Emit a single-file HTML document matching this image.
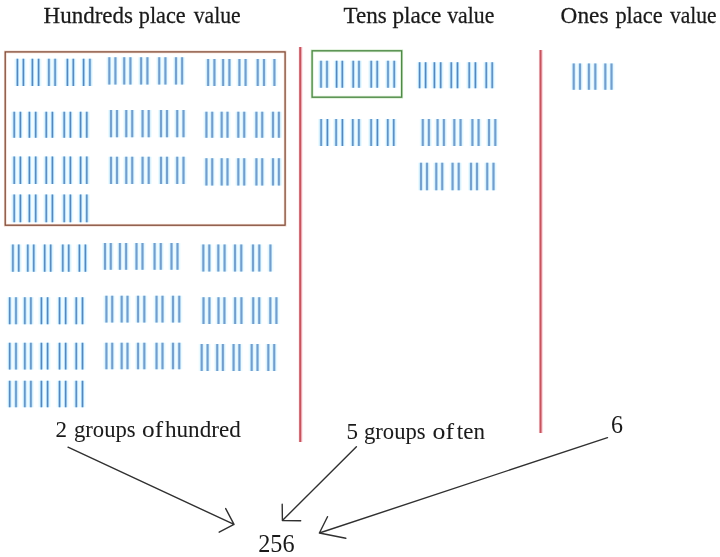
<!DOCTYPE html>
<html><head><meta charset="utf-8"><style>
html,body{margin:0;padding:0;background:#fff;width:720px;height:557px;overflow:hidden}
svg{display:block}
</style></head><body>
<svg width="720" height="557" viewBox="0 0 720 557">
<rect width="720" height="557" fill="#fff"/>
<path d="M17.40 58.75V86.00M23.40 58.75V86.00M32.40 58.75V86.00M38.60 58.75V86.00M48.90 58.75V86.00M55.10 58.75V86.00M67.40 58.75V86.00M73.30 58.75V86.00M83.60 58.75V86.00M89.90 58.75V86.00M14.20 111.80V137.80M20.40 111.80V137.80M29.40 111.80V137.80M35.70 111.80V137.80M46.25 111.80V137.80M52.40 111.80V137.80M64.20 111.80V137.80M70.40 111.80V137.80M80.60 111.80V137.80M86.80 111.80V137.80M14.20 156.40V183.90M20.40 156.40V183.90M29.40 156.40V183.90M35.70 156.40V183.90M46.25 156.40V183.90M52.40 156.40V183.90M64.20 156.40V183.90M70.40 156.40V183.90M80.60 156.40V183.90M86.80 156.40V183.90M14.20 194.40V222.20M20.40 194.40V222.20M29.40 194.40V222.20M35.70 194.40V222.20M46.25 194.40V222.20M52.40 194.40V222.20M64.20 194.40V222.20M70.40 194.40V222.20M80.60 194.40V222.20M86.80 194.40V222.20M12.90 244.40V271.80M18.75 244.40V271.80M27.80 244.40V271.80M33.75 244.40V271.80M44.70 244.40V271.80M50.70 244.40V271.80M62.80 244.40V271.80M68.75 244.40V271.80M79.40 244.40V271.80M85.40 244.40V271.80M9.70 297.20V324.20M16.00 297.20V324.20M24.85 297.20V324.20M30.90 297.20V324.20M41.40 297.20V324.20M47.60 297.20V324.20M59.55 297.20V324.20M65.65 297.20V324.20M76.25 297.20V324.20M82.50 297.20V324.20M9.70 342.80V369.60M16.00 342.80V369.60M24.85 342.80V369.60M30.90 342.80V369.60M41.40 342.80V369.60M47.60 342.80V369.60M59.55 342.80V369.60M65.65 342.80V369.60M76.25 342.80V369.60M82.50 342.80V369.60M9.70 380.80V407.20M16.00 380.80V407.20M24.85 380.80V407.20M30.90 380.80V407.20M41.40 380.80V407.20M47.60 380.80V407.20M59.55 380.80V407.20M65.65 380.80V407.20M76.25 380.80V407.20M82.50 380.80V407.20M321.00 60.80V87.80M327.00 60.80V87.80M336.60 60.80V87.80M342.30 60.80V87.80M353.20 60.80V87.80M359.00 60.80V87.80M371.20 60.80V87.80M377.20 60.80V87.80M388.00 60.80V87.80M394.20 60.80V87.80M419.60 62.20V88.20M425.60 62.20V88.20M434.40 62.20V88.20M440.70 62.20V88.20M451.25 62.20V88.20M457.50 62.20V88.20M469.20 62.20V88.20M475.40 62.20V88.20M486.25 62.20V88.20M492.20 62.20V88.20M321.10 118.90V146.00M327.40 118.90V146.00M336.10 118.90V146.00M342.40 118.90V146.00M352.80 118.90V146.00M358.90 118.90V146.00M371.10 118.90V146.00M377.40 118.90V146.00M387.80 118.90V146.00M393.75 118.90V146.00M109.30 57.20V84.60M115.40 57.20V84.60M124.20 57.20V84.60M130.40 57.20V84.60M141.10 57.20V84.60M147.40 57.20V84.60M159.20 57.20V84.60M165.40 57.20V84.60M176.00 57.20V84.60M182.10 57.20V84.60M208.10 59.00V86.00M214.40 59.00V86.00M223.10 59.00V86.00M229.40 59.00V86.00M239.40 59.00V86.00M245.60 59.00V86.00M257.75 59.00V86.00M264.00 59.00V86.00M274.40 59.00V86.00M111.00 110.00V137.20M117.00 110.00V137.20M126.25 110.00V137.20M132.20 110.00V137.20M142.60 110.00V137.20M148.75 110.00V137.20M161.00 110.00V137.20M167.00 110.00V137.20M177.20 110.00V137.20M183.50 110.00V137.20M206.40 111.80V137.80M212.20 111.80V137.80M221.70 111.80V137.80M227.50 111.80V137.80M238.30 111.80V137.80M244.20 111.80V137.80M256.40 111.80V137.80M262.20 111.80V137.80M273.00 111.80V137.80M278.90 111.80V137.80M111.00 156.80V183.90M117.00 156.80V183.90M126.25 156.80V183.90M132.20 156.80V183.90M142.60 156.80V183.90M148.75 156.80V183.90M161.00 156.80V183.90M167.00 156.80V183.90M177.20 156.80V183.90M183.50 156.80V183.90M206.40 158.20V185.60M212.20 158.20V185.60M221.70 158.20V185.60M227.50 158.20V185.60M238.30 158.20V185.60M244.20 158.20V185.60M256.40 158.20V185.60M262.20 158.20V185.60M273.00 158.20V185.60M278.90 158.20V185.60M105.00 243.00V269.70M110.80 243.00V269.70M119.90 243.00V269.70M126.10 243.00V269.70M136.50 243.00V269.70M142.50 243.00V269.70M154.60 243.00V269.70M160.80 243.00V269.70M171.50 243.00V269.70M177.50 243.00V269.70M203.30 244.40V271.40M209.30 244.40V271.40M218.30 244.40V271.40M224.60 244.40V271.40M235.00 244.40V271.40M241.25 244.40V271.40M253.00 244.40V271.40M259.30 244.40V271.40M270.40 244.40V271.40M106.40 295.80V322.50M112.20 295.80V322.50M121.70 295.80V322.50M127.50 295.80V322.50M138.05 295.80V322.50M144.30 295.80V322.50M156.55 295.80V322.50M162.50 295.80V322.50M173.00 295.80V322.50M179.25 295.80V322.50M203.50 297.20V323.90M209.40 297.20V323.90M218.50 297.20V323.90M224.40 297.20V323.90M235.10 297.20V323.90M241.40 297.20V323.90M253.20 297.20V323.90M259.20 297.20V323.90M270.30 297.20V323.90M276.40 297.20V323.90M106.40 342.80V369.20M112.20 342.80V369.20M121.70 342.80V369.20M127.50 342.80V369.20M138.05 342.80V369.20M144.30 342.80V369.20M156.55 342.80V369.20M162.50 342.80V369.20M173.00 342.80V369.20M179.25 342.80V369.20M201.70 343.90V371.00M207.60 343.90V371.00M217.20 343.90V371.00M222.90 343.90V371.00M233.60 343.90V371.00M239.40 343.90V371.00M251.70 343.90V371.00M257.50 343.90V371.00M268.30 343.90V371.00M274.20 343.90V371.00M422.80 118.90V146.00M428.90 118.90V146.00M437.60 118.90V146.00M443.90 118.90V146.00M454.30 118.90V146.00M460.60 118.90V146.00M472.40 118.90V146.00M478.60 118.90V146.00M489.00 118.90V146.00M495.30 118.90V146.00M421.00 162.80V190.30M427.00 162.80V190.30M436.25 162.80V190.30M442.20 162.80V190.30M452.60 162.80V190.30M458.75 162.80V190.30M471.00 162.80V190.30M477.00 162.80V190.30M487.20 162.80V190.30M493.50 162.80V190.30M573.75 63.60V89.70M580.00 63.60V89.70M588.90 63.60V89.70M595.30 63.60V89.70M605.30 63.60V89.70M611.50 63.60V89.70" stroke="#ecfbff" stroke-width="6" fill="none"/>
<path d="M17.40 58.75V86.00M23.40 58.75V86.00M32.40 58.75V86.00M38.60 58.75V86.00M48.90 58.75V86.00M55.10 58.75V86.00M67.40 58.75V86.00M73.30 58.75V86.00M83.60 58.75V86.00M89.90 58.75V86.00M14.20 111.80V137.80M20.40 111.80V137.80M29.40 111.80V137.80M35.70 111.80V137.80M46.25 111.80V137.80M52.40 111.80V137.80M64.20 111.80V137.80M70.40 111.80V137.80M80.60 111.80V137.80M86.80 111.80V137.80M14.20 156.40V183.90M20.40 156.40V183.90M29.40 156.40V183.90M35.70 156.40V183.90M46.25 156.40V183.90M52.40 156.40V183.90M64.20 156.40V183.90M70.40 156.40V183.90M80.60 156.40V183.90M86.80 156.40V183.90M14.20 194.40V222.20M20.40 194.40V222.20M29.40 194.40V222.20M35.70 194.40V222.20M46.25 194.40V222.20M52.40 194.40V222.20M64.20 194.40V222.20M70.40 194.40V222.20M80.60 194.40V222.20M86.80 194.40V222.20M12.90 244.40V271.80M18.75 244.40V271.80M27.80 244.40V271.80M33.75 244.40V271.80M44.70 244.40V271.80M50.70 244.40V271.80M62.80 244.40V271.80M68.75 244.40V271.80M79.40 244.40V271.80M85.40 244.40V271.80M9.70 297.20V324.20M16.00 297.20V324.20M24.85 297.20V324.20M30.90 297.20V324.20M41.40 297.20V324.20M47.60 297.20V324.20M59.55 297.20V324.20M65.65 297.20V324.20M76.25 297.20V324.20M82.50 297.20V324.20M9.70 342.80V369.60M16.00 342.80V369.60M24.85 342.80V369.60M30.90 342.80V369.60M41.40 342.80V369.60M47.60 342.80V369.60M59.55 342.80V369.60M65.65 342.80V369.60M76.25 342.80V369.60M82.50 342.80V369.60M9.70 380.80V407.20M16.00 380.80V407.20M24.85 380.80V407.20M30.90 380.80V407.20M41.40 380.80V407.20M47.60 380.80V407.20M59.55 380.80V407.20M65.65 380.80V407.20M76.25 380.80V407.20M82.50 380.80V407.20M321.00 60.80V87.80M327.00 60.80V87.80M336.60 60.80V87.80M342.30 60.80V87.80M353.20 60.80V87.80M359.00 60.80V87.80M371.20 60.80V87.80M377.20 60.80V87.80M388.00 60.80V87.80M394.20 60.80V87.80M419.60 62.20V88.20M425.60 62.20V88.20M434.40 62.20V88.20M440.70 62.20V88.20M451.25 62.20V88.20M457.50 62.20V88.20M469.20 62.20V88.20M475.40 62.20V88.20M486.25 62.20V88.20M492.20 62.20V88.20M321.10 118.90V146.00M327.40 118.90V146.00M336.10 118.90V146.00M342.40 118.90V146.00M352.80 118.90V146.00M358.90 118.90V146.00M371.10 118.90V146.00M377.40 118.90V146.00M387.80 118.90V146.00M393.75 118.90V146.00" stroke="#acd8f8" stroke-width="3" fill="none"/>
<path d="M17.40 58.75V86.00M23.40 58.75V86.00M32.40 58.75V86.00M38.60 58.75V86.00M48.90 58.75V86.00M55.10 58.75V86.00M67.40 58.75V86.00M73.30 58.75V86.00M83.60 58.75V86.00M89.90 58.75V86.00M14.20 111.80V137.80M20.40 111.80V137.80M29.40 111.80V137.80M35.70 111.80V137.80M46.25 111.80V137.80M52.40 111.80V137.80M64.20 111.80V137.80M70.40 111.80V137.80M80.60 111.80V137.80M86.80 111.80V137.80M14.20 156.40V183.90M20.40 156.40V183.90M29.40 156.40V183.90M35.70 156.40V183.90M46.25 156.40V183.90M52.40 156.40V183.90M64.20 156.40V183.90M70.40 156.40V183.90M80.60 156.40V183.90M86.80 156.40V183.90M14.20 194.40V222.20M20.40 194.40V222.20M29.40 194.40V222.20M35.70 194.40V222.20M46.25 194.40V222.20M52.40 194.40V222.20M64.20 194.40V222.20M70.40 194.40V222.20M80.60 194.40V222.20M86.80 194.40V222.20M12.90 244.40V271.80M18.75 244.40V271.80M27.80 244.40V271.80M33.75 244.40V271.80M44.70 244.40V271.80M50.70 244.40V271.80M62.80 244.40V271.80M68.75 244.40V271.80M79.40 244.40V271.80M85.40 244.40V271.80M9.70 297.20V324.20M16.00 297.20V324.20M24.85 297.20V324.20M30.90 297.20V324.20M41.40 297.20V324.20M47.60 297.20V324.20M59.55 297.20V324.20M65.65 297.20V324.20M76.25 297.20V324.20M82.50 297.20V324.20M9.70 342.80V369.60M16.00 342.80V369.60M24.85 342.80V369.60M30.90 342.80V369.60M41.40 342.80V369.60M47.60 342.80V369.60M59.55 342.80V369.60M65.65 342.80V369.60M76.25 342.80V369.60M82.50 342.80V369.60M9.70 380.80V407.20M16.00 380.80V407.20M24.85 380.80V407.20M30.90 380.80V407.20M41.40 380.80V407.20M47.60 380.80V407.20M59.55 380.80V407.20M65.65 380.80V407.20M76.25 380.80V407.20M82.50 380.80V407.20M321.00 60.80V87.80M327.00 60.80V87.80M336.60 60.80V87.80M342.30 60.80V87.80M353.20 60.80V87.80M359.00 60.80V87.80M371.20 60.80V87.80M377.20 60.80V87.80M388.00 60.80V87.80M394.20 60.80V87.80M419.60 62.20V88.20M425.60 62.20V88.20M434.40 62.20V88.20M440.70 62.20V88.20M451.25 62.20V88.20M457.50 62.20V88.20M469.20 62.20V88.20M475.40 62.20V88.20M486.25 62.20V88.20M492.20 62.20V88.20M321.10 118.90V146.00M327.40 118.90V146.00M336.10 118.90V146.00M342.40 118.90V146.00M352.80 118.90V146.00M358.90 118.90V146.00M371.10 118.90V146.00M377.40 118.90V146.00M387.80 118.90V146.00M393.75 118.90V146.00" stroke="#5587bb" stroke-width="1.3" fill="none"/>
<path d="M109.30 57.20V84.60M115.40 57.20V84.60M124.20 57.20V84.60M130.40 57.20V84.60M141.10 57.20V84.60M147.40 57.20V84.60M159.20 57.20V84.60M165.40 57.20V84.60M176.00 57.20V84.60M182.10 57.20V84.60M208.10 59.00V86.00M214.40 59.00V86.00M223.10 59.00V86.00M229.40 59.00V86.00M239.40 59.00V86.00M245.60 59.00V86.00M257.75 59.00V86.00M264.00 59.00V86.00M274.40 59.00V86.00M111.00 110.00V137.20M117.00 110.00V137.20M126.25 110.00V137.20M132.20 110.00V137.20M142.60 110.00V137.20M148.75 110.00V137.20M161.00 110.00V137.20M167.00 110.00V137.20M177.20 110.00V137.20M183.50 110.00V137.20M206.40 111.80V137.80M212.20 111.80V137.80M221.70 111.80V137.80M227.50 111.80V137.80M238.30 111.80V137.80M244.20 111.80V137.80M256.40 111.80V137.80M262.20 111.80V137.80M273.00 111.80V137.80M278.90 111.80V137.80M111.00 156.80V183.90M117.00 156.80V183.90M126.25 156.80V183.90M132.20 156.80V183.90M142.60 156.80V183.90M148.75 156.80V183.90M161.00 156.80V183.90M167.00 156.80V183.90M177.20 156.80V183.90M183.50 156.80V183.90M206.40 158.20V185.60M212.20 158.20V185.60M221.70 158.20V185.60M227.50 158.20V185.60M238.30 158.20V185.60M244.20 158.20V185.60M256.40 158.20V185.60M262.20 158.20V185.60M273.00 158.20V185.60M278.90 158.20V185.60M105.00 243.00V269.70M110.80 243.00V269.70M119.90 243.00V269.70M126.10 243.00V269.70M136.50 243.00V269.70M142.50 243.00V269.70M154.60 243.00V269.70M160.80 243.00V269.70M171.50 243.00V269.70M177.50 243.00V269.70M203.30 244.40V271.40M209.30 244.40V271.40M218.30 244.40V271.40M224.60 244.40V271.40M235.00 244.40V271.40M241.25 244.40V271.40M253.00 244.40V271.40M259.30 244.40V271.40M270.40 244.40V271.40M106.40 295.80V322.50M112.20 295.80V322.50M121.70 295.80V322.50M127.50 295.80V322.50M138.05 295.80V322.50M144.30 295.80V322.50M156.55 295.80V322.50M162.50 295.80V322.50M173.00 295.80V322.50M179.25 295.80V322.50M203.50 297.20V323.90M209.40 297.20V323.90M218.50 297.20V323.90M224.40 297.20V323.90M235.10 297.20V323.90M241.40 297.20V323.90M253.20 297.20V323.90M259.20 297.20V323.90M270.30 297.20V323.90M276.40 297.20V323.90M106.40 342.80V369.20M112.20 342.80V369.20M121.70 342.80V369.20M127.50 342.80V369.20M138.05 342.80V369.20M144.30 342.80V369.20M156.55 342.80V369.20M162.50 342.80V369.20M173.00 342.80V369.20M179.25 342.80V369.20M201.70 343.90V371.00M207.60 343.90V371.00M217.20 343.90V371.00M222.90 343.90V371.00M233.60 343.90V371.00M239.40 343.90V371.00M251.70 343.90V371.00M257.50 343.90V371.00M268.30 343.90V371.00M274.20 343.90V371.00M422.80 118.90V146.00M428.90 118.90V146.00M437.60 118.90V146.00M443.90 118.90V146.00M454.30 118.90V146.00M460.60 118.90V146.00M472.40 118.90V146.00M478.60 118.90V146.00M489.00 118.90V146.00M495.30 118.90V146.00M421.00 162.80V190.30M427.00 162.80V190.30M436.25 162.80V190.30M442.20 162.80V190.30M452.60 162.80V190.30M458.75 162.80V190.30M471.00 162.80V190.30M477.00 162.80V190.30M487.20 162.80V190.30M493.50 162.80V190.30M573.75 63.60V89.70M580.00 63.60V89.70M588.90 63.60V89.70M595.30 63.60V89.70M605.30 63.60V89.70M611.50 63.60V89.70" stroke="#bcdff8" stroke-width="3.2" fill="none"/>
<path d="M109.30 57.20V84.60M115.40 57.20V84.60M124.20 57.20V84.60M130.40 57.20V84.60M141.10 57.20V84.60M147.40 57.20V84.60M159.20 57.20V84.60M165.40 57.20V84.60M176.00 57.20V84.60M182.10 57.20V84.60M208.10 59.00V86.00M214.40 59.00V86.00M223.10 59.00V86.00M229.40 59.00V86.00M239.40 59.00V86.00M245.60 59.00V86.00M257.75 59.00V86.00M264.00 59.00V86.00M274.40 59.00V86.00M111.00 110.00V137.20M117.00 110.00V137.20M126.25 110.00V137.20M132.20 110.00V137.20M142.60 110.00V137.20M148.75 110.00V137.20M161.00 110.00V137.20M167.00 110.00V137.20M177.20 110.00V137.20M183.50 110.00V137.20M206.40 111.80V137.80M212.20 111.80V137.80M221.70 111.80V137.80M227.50 111.80V137.80M238.30 111.80V137.80M244.20 111.80V137.80M256.40 111.80V137.80M262.20 111.80V137.80M273.00 111.80V137.80M278.90 111.80V137.80M111.00 156.80V183.90M117.00 156.80V183.90M126.25 156.80V183.90M132.20 156.80V183.90M142.60 156.80V183.90M148.75 156.80V183.90M161.00 156.80V183.90M167.00 156.80V183.90M177.20 156.80V183.90M183.50 156.80V183.90M206.40 158.20V185.60M212.20 158.20V185.60M221.70 158.20V185.60M227.50 158.20V185.60M238.30 158.20V185.60M244.20 158.20V185.60M256.40 158.20V185.60M262.20 158.20V185.60M273.00 158.20V185.60M278.90 158.20V185.60M105.00 243.00V269.70M110.80 243.00V269.70M119.90 243.00V269.70M126.10 243.00V269.70M136.50 243.00V269.70M142.50 243.00V269.70M154.60 243.00V269.70M160.80 243.00V269.70M171.50 243.00V269.70M177.50 243.00V269.70M203.30 244.40V271.40M209.30 244.40V271.40M218.30 244.40V271.40M224.60 244.40V271.40M235.00 244.40V271.40M241.25 244.40V271.40M253.00 244.40V271.40M259.30 244.40V271.40M270.40 244.40V271.40M106.40 295.80V322.50M112.20 295.80V322.50M121.70 295.80V322.50M127.50 295.80V322.50M138.05 295.80V322.50M144.30 295.80V322.50M156.55 295.80V322.50M162.50 295.80V322.50M173.00 295.80V322.50M179.25 295.80V322.50M203.50 297.20V323.90M209.40 297.20V323.90M218.50 297.20V323.90M224.40 297.20V323.90M235.10 297.20V323.90M241.40 297.20V323.90M253.20 297.20V323.90M259.20 297.20V323.90M270.30 297.20V323.90M276.40 297.20V323.90M106.40 342.80V369.20M112.20 342.80V369.20M121.70 342.80V369.20M127.50 342.80V369.20M138.05 342.80V369.20M144.30 342.80V369.20M156.55 342.80V369.20M162.50 342.80V369.20M173.00 342.80V369.20M179.25 342.80V369.20M201.70 343.90V371.00M207.60 343.90V371.00M217.20 343.90V371.00M222.90 343.90V371.00M233.60 343.90V371.00M239.40 343.90V371.00M251.70 343.90V371.00M257.50 343.90V371.00M268.30 343.90V371.00M274.20 343.90V371.00M422.80 118.90V146.00M428.90 118.90V146.00M437.60 118.90V146.00M443.90 118.90V146.00M454.30 118.90V146.00M460.60 118.90V146.00M472.40 118.90V146.00M478.60 118.90V146.00M489.00 118.90V146.00M495.30 118.90V146.00M421.00 162.80V190.30M427.00 162.80V190.30M436.25 162.80V190.30M442.20 162.80V190.30M452.60 162.80V190.30M458.75 162.80V190.30M471.00 162.80V190.30M477.00 162.80V190.30M487.20 162.80V190.30M493.50 162.80V190.30M573.75 63.60V89.70M580.00 63.60V89.70M588.90 63.60V89.70M595.30 63.60V89.70M605.30 63.60V89.70M611.50 63.60V89.70" stroke="#729ecc" stroke-width="1.9" fill="none"/>
<rect x="5.2" y="51.9" width="279.9" height="173.3" fill="none" stroke="#eed2c4" stroke-width="2.6"/>
<rect x="5.2" y="51.9" width="279.9" height="173.3" fill="none" stroke="#743e2c" stroke-width="1.1"/>
<rect x="312.1" y="50.8" width="89.6" height="46.4" fill="none" stroke="#d4ecce" stroke-width="2.8"/>
<rect x="312.1" y="50.8" width="89.6" height="46.4" fill="none" stroke="#4a8642" stroke-width="1.3"/>
<path d="M300.6 47V442M540.9 50V433" stroke="#fde6ea" stroke-width="4.4" fill="none"/>
<path d="M301.2 47V442M541.5 50V433" stroke="#f6c0c8" stroke-width="1.6" fill="none"/>
<path d="M300.2 47V442M540.5 50V433" stroke="#c6545e" stroke-width="2" fill="none"/>
<g stroke="#303030" stroke-width="1.4" fill="none" stroke-linecap="round" stroke-linejoin="round"><path d="M68 447.2L234 524.4M225.7 508.6L234 524.4L219.2 532.2"/><path d="M356.4 446.8L282.4 520.5M282.2 504.3L282.4 520.5L300.7 520.8"/><path d="M607.5 437.6L319.4 533M327.5 516.7L319.4 533L345.8 538.3"/></g>
<g font-family="&quot;Liberation Serif&quot;, serif" fill="#1a1a1a" stroke="#1a1a1a" stroke-width="0.25" style="filter:grayscale(1)">
<text transform="translate(43.6 23.3) scale(1 1.04)" font-size="23" stroke-width="0.25" textLength="89.3" lengthAdjust="spacingAndGlyphs">Hundreds</text>
<text transform="translate(138.8 23.3) scale(1 1.04)" font-size="23" stroke-width="0.25" textLength="46.9" lengthAdjust="spacingAndGlyphs">place</text>
<text transform="translate(193.8 23.3) scale(1 1.04)" font-size="23" stroke-width="0.25" textLength="46.89" lengthAdjust="spacingAndGlyphs">value</text>
<text transform="translate(343.6 23.3) scale(1 1.04)" font-size="23" stroke-width="0.25" textLength="43.18" lengthAdjust="spacingAndGlyphs">Tens</text>
<text transform="translate(392.4 23.3) scale(1 1.04)" font-size="23" stroke-width="0.25" textLength="49.0" lengthAdjust="spacingAndGlyphs">place</text>
<text transform="translate(447.2 23.3) scale(1 1.04)" font-size="23" stroke-width="0.25" textLength="47.09" lengthAdjust="spacingAndGlyphs">value</text>
<text transform="translate(560.6 23.3) scale(1 1.04)" font-size="23" stroke-width="0.25" textLength="47.85" lengthAdjust="spacingAndGlyphs">Ones</text>
<text transform="translate(615.4 23.3) scale(1 1.04)" font-size="23" stroke-width="0.25" textLength="47.3" lengthAdjust="spacingAndGlyphs">place</text>
<text transform="translate(670.0 23.3) scale(1 1.04)" font-size="23" stroke-width="0.25" textLength="46.59" lengthAdjust="spacingAndGlyphs">value</text>
<text transform="translate(55.6 437.3) scale(1 1.04)" font-size="23" stroke-width="0.05">2</text>
<text transform="translate(74.0 437.3) scale(1 1.04)" font-size="23" stroke-width="0.05" textLength="61.58" lengthAdjust="spacingAndGlyphs">groups</text>
<text transform="translate(142.0 437.3) scale(1 1.04)" font-size="23" stroke-width="0.05" textLength="21.06" lengthAdjust="spacingAndGlyphs">of</text>
<text transform="translate(165.0 437.3) scale(1 1.04)" font-size="23" stroke-width="0.05" textLength="75.74" lengthAdjust="spacingAndGlyphs">hundred</text>
<text transform="translate(346.4 438.8) scale(1 1.04)" font-size="23" stroke-width="0.05">5</text>
<text transform="translate(364.0 438.8) scale(1 1.04)" font-size="23" stroke-width="0.05" textLength="61.58" lengthAdjust="spacingAndGlyphs">groups</text>
<text transform="translate(432.6 438.8) scale(1 1.04)" font-size="23" stroke-width="0.05" textLength="21.46" lengthAdjust="spacingAndGlyphs">of</text>
<text transform="translate(456.8 438.8) scale(1 1.04)" font-size="23" stroke-width="0.05" textLength="28.09" lengthAdjust="spacingAndGlyphs">ten</text>
<text transform="translate(611.0 433.4) scale(1 1.08)" font-size="24" stroke-width="0">6</text>
<text transform="translate(258.2 552.1) scale(1 1.09)" font-size="23.5" stroke-width="0" textLength="36.35" lengthAdjust="spacingAndGlyphs">256</text>
</g>
</svg>
</body></html>
